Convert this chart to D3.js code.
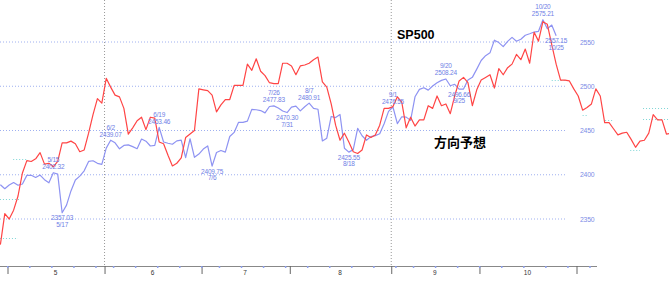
<!DOCTYPE html>
<html><head><meta charset="utf-8">
<script src="https://cdnjs.cloudflare.com/ajax/libs/d3/7.8.5/d3.min.js"></script>
<style>html,body{margin:0;padding:0;background:#fff;overflow:hidden}svg{display:block}</style>
</head><body>
<script>
// ---- data ----
// trading-day index 0 = 2017-05-01; first value of each series is at index -2 (2017-04-27)
const startIndex = -2;
const holidays = ["2017-05-29","2017-07-04","2017-09-04","2017-11-23"];
const monthLabels = ["5","6","7","8","9","10"];
const yTicks = [2350, 2400, 2450, 2500, 2550];

// SP500 daily close (blue)
const sp500 = [2388.77,2384.20,
 2388.33,2391.17,2388.13,2389.52,2399.29,2399.38,2396.92,2399.63,2394.44,2390.90,2402.32,2400.67,2357.03,2365.72,2381.73,2394.02,2398.42,2404.39,2415.07,2415.82,2412.91,2411.80,
 2430.06,2439.07,2436.10,2429.33,2433.14,2433.79,2431.77,2429.39,2440.35,2437.92,2432.46,2433.15,2453.46,2437.03,2435.61,2434.50,2438.30,2439.07,2419.38,2440.69,2419.70,2423.41,
 2429.01,2432.54,2409.75,2425.18,2427.43,2425.53,2443.25,2447.83,2459.27,2459.14,2460.61,2473.83,2473.45,2472.54,2469.91,2477.13,2477.83,2475.42,2472.10,2470.30,
 2476.35,2477.57,2472.16,2476.83,2480.91,2474.92,2474.02,2438.21,2441.32,2465.84,2464.61,2468.11,2430.01,2425.55,2428.37,2452.51,2444.04,2438.97,2443.05,2444.24,2446.30,2457.59,2471.65,
 2476.55,2457.85,2465.54,2465.10,2461.43,2488.11,2496.48,2498.37,2495.62,2500.23,2503.87,2506.65,2508.24,2500.60,2502.22,2496.66,2496.84,2507.04,2510.06,2519.36,
 2529.12,2534.58,2537.74,2552.07,2549.33,2544.73,2550.64,2555.24,2550.93,2553.17,2557.64,2559.36,2561.26,2562.10,2575.21,2564.98,2569.13,2557.15];

// direction forecast (red)
const forecast = [2321,2356,
 2350,2360,2376,2402,2416,2415,2418,2425,2412,2413,2409,2415,2436,2436,2438,2435,2426,2428,2447,2468,
 2486,2481,2509,2499,2490,2488,2475,2446,2453,2461,2465,2451,2465,2464,2437,2435,2422,2410,2413,2419,2442,2446,
 2450,2497,2496,2495,2490,2471,2479,2485,2485,2501,2501,2501,2525,2518,2531,2517,2512,2504,2503,2503,
 2526,2526,2523,2513,2523,2524,2526,2530,2533,2505,2499,2480,2456,2439,2447,2437,2426,2424,2428,2445,2442,2445,2456,
 2475,2475,2477,2488,2482,2453,2465,2455,2462,2462,2478,2475,2489,2478,2480,2469,2489,2506,2510,2504,2478,2496,
 2507,2510,2513,2498,2520,2513,2521,2525,2536,2530,2542,2526,2561,2551,2573,2570,2547,2525,2507,2507,2506,2497,
 2489,2473,2476,2480,2497,2489,2459,2459,2452,2445,2447,2448,2440,2431,2438,2439,2447,2468,2462,2462,2446,2447];

// labelled highs / lows on the SP500 line
const notes = [
 {date:"5/15", value:2402.32, pos:"above"},
 {date:"5/17", value:2357.03, pos:"below"},
 {date:"6/2",  value:2439.07, pos:"above"},
 {date:"6/19", value:2453.46, pos:"above"},
 {date:"7/6",  value:2409.75, pos:"below"},
 {date:"7/26", value:2477.83, pos:"above"},
 {date:"7/31", value:2470.30, pos:"below"},
 {date:"8/7",  value:2480.91, pos:"above"},
 {date:"8/18", value:2425.55, pos:"below"},
 {date:"9/1",  value:2476.55, pos:"above"},
 {date:"9/20", value:2508.24, pos:"above"},
 {date:"9/25", value:2496.66, pos:"below"},
 {date:"10/20",value:2575.21, pos:"above"},
 {date:"10/25",value:2557.15, pos:"below"}
];

// short forecast level marks [fromIndex, toIndex, value]
const levelMarks = [[-2.1,2.4,2373],[-2.1,2.0,2329],[0.9,4.0,2418],[123,126.5,2507],[130,131,2468],
 [135.1,136.9,2462],[140.8,143,2428],[143.7,150,2475],[143.7,150,2463]];

// ---- build trading calendar ----
const days = [];
{
  let d = new Date(2017,3,27);
  const end = new Date(2017,10,30);
  const fmt = d3.timeFormat("%Y-%m-%d");
  while (d <= end) {
    const wd = d.getDay();
    if (wd!==0 && wd!==6 && !holidays.includes(fmt(d))) days.push(new Date(d));
    d.setDate(d.getDate()+1);
  }
}
const idxOf = dt => days.findIndex(x=>+x===+dt) + startIndex;
const monthStarts = [], weekStarts = [];
days.forEach((d,k)=>{
  const i = k + startIndex;
  const prev = days[k-1];
  if (prev && prev.getMonth()!==d.getMonth()) monthStarts.push(i);
  if (prev && (d.getDay() < prev.getDay() || (d - prev) > 3*864e5)) weekStarts.push(i);
});
const dateIdx = s => { const [m,dd]=s.split("/").map(Number); return idxOf(new Date(2017,m-1,dd)); };

// ---- chart ----
const W=669, H=284;
const svg = d3.select("body").append("svg").attr("width",W).attr("height",H);
const x = d3.scaleLinear().domain([0,129]).range([7,576]);
const y = d3.scaleLinear().domain([2350,2550]).range([219,42]);
const px = i => x(i+0.5);
const axisY = 266, gridEnd = 567, axisEnd = 597;

// horizontal grid
svg.append("g").selectAll("line").data(yTicks).join("line")
  .attr("x1",0).attr("x2",gridEnd).attr("y1",d=>y(d)).attr("y2",d=>y(d))
  .attr("stroke","#9fb0f0").attr("stroke-width",1).attr("stroke-dasharray","1,2");
svg.append("g").selectAll("text").data(yTicks).join("text")
  .attr("x",580).attr("y",d=>y(d)+2.5).text(d=>d)
  .attr("font-family","Liberation Sans, Arial, sans-serif").attr("font-size",6.8)
  .attr("letter-spacing","-0.2").attr("fill","#7d8ce6");

// vertical grid at July and October
svg.append("g").selectAll("line").data([monthStarts[1], monthStarts[4]]).join("line")
  .attr("x1",d=>x(d)+0.5).attr("x2",d=>x(d)+0.5).attr("y1",0).attr("y2",axisY)
  .attr("stroke","#999").attr("stroke-width",1).attr("stroke-dasharray","1,2");

// level marks
svg.append("g").selectAll("line").data(levelMarks).join("line")
  .attr("x1",d=>px(d[0])).attr("x2",d=>px(d[1])).attr("y1",d=>Math.round(y(d[2]))+0.5).attr("y2",d=>Math.round(y(d[2]))+0.5)
  .attr("stroke","#7fd6d6").attr("stroke-width",1).attr("stroke-dasharray","1,2");

// lines
const line = d3.line().x(d=>px(d.i)).y(d=>y(d.v));
const blueData = sp500.map((v,k)=>({i:k+startIndex, v}));
const redData = forecast.map((v,k)=>({i:k+startIndex, v}));
svg.append("path").datum(blueData).attr("d",line).attr("fill","none")
  .attr("stroke","#8e93f2").attr("stroke-width",1.2).attr("stroke-linejoin","round");
svg.append("path").datum(redData).attr("d",line).attr("fill","none")
  .attr("stroke","#ff4545").attr("stroke-width",1.2).attr("stroke-linejoin","round");

// annotations
const ng = svg.append("g").attr("font-family","Liberation Sans, Arial, sans-serif")
  .attr("font-size",6.5).attr("letter-spacing","-0.2").attr("fill","#6f80e6").attr("text-anchor","middle");
notes.forEach(n=>{
  const i = dateIdx(n.date);
  const cx = px(i), cy = y(n.value);
  const vtxt = n.value.toFixed(2);
  if (n.pos==="above") {
    ng.append("text").attr("x",cx).attr("y",cy-10.5).text(n.date);
    ng.append("text").attr("x",cx).attr("y",cy-3.5).text(vtxt);
  } else {
    ng.append("text").attr("x",cx).attr("y",cy+7.5).text(vtxt);
    ng.append("text").attr("x",cx).attr("y",cy+14).text(n.date);
  }
});

// titles
svg.append("text").attr("x",397).attr("y",38.5).text("SP500")
  .attr("font-family","Liberation Sans, Arial, sans-serif").attr("font-weight","bold")
  .attr("font-size",12.5).attr("fill","#000");
svg.append("text").attr("x",434).attr("y",147).text("方向予想")
  .attr("font-family","Noto Sans CJK JP, sans-serif").attr("font-weight","bold")
  .attr("font-size",13).attr("fill","#000");

// x axis
const ax = svg.append("g").attr("transform",`translate(0,${axisY})`);
ax.append("line").attr("x1",0).attr("x2",axisEnd).attr("y1",0.5).attr("y2",0.5).attr("stroke","#888");
ax.call(g=>{
  const axis = d3.axisBottom(x).tickValues(monthStarts.slice(0,7)).tickSize(8).tickFormat("");
  const sub = g.append("g").call(axis);
  sub.select(".domain").remove();
  sub.selectAll(".tick line").attr("stroke","#666").attr("transform","translate(0.5,0)");
});
ax.append("g").selectAll("rect").data(weekStarts.filter(i=>x(i)<axisEnd)).join("rect")
  .attr("x",d=>x(d)).attr("y",0).attr("width",1.5).attr("height",2).attr("fill","#8ea0ee");
const mids = monthLabels.map((m,k)=>(monthStarts[k]+monthStarts[k+1])/2);
ax.append("g").selectAll("text").data(monthLabels).join("text")
  .attr("x",(d,k)=>x(mids[k])).attr("y",9).text(d=>d)
  .attr("text-anchor","middle").attr("font-family","Liberation Sans, Arial, sans-serif")
  .attr("font-size",6.5).attr("fill","#333");
</script>
</body></html>
